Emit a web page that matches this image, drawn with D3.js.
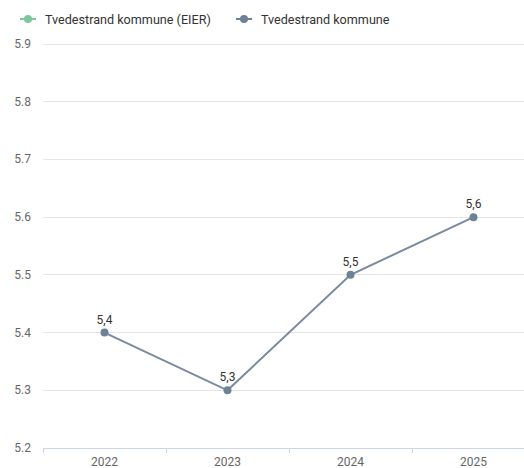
<!DOCTYPE html>
<html><head><meta charset="utf-8">
<script src="https://cdn.jsdelivr.net/npm/d3@7"></script>
<style>body{margin:0;background:#fff;font-family:Roboto,"Noto Sans",sans-serif;}</style>
</head><body><svg id="c" width="524" height="468"></svg>
<script>
const categories = ["2022","2023","2024","2025"];
const seriesNames = ["Tvedestrand kommune (EIER)","Tvedestrand kommune"];
const seriesColors = ["#7cc79b","#6e8296"];
const values = [5.4,5.3,5.5,5.6];
const yTicks = [5.2,5.3,5.4,5.5,5.6,5.7,5.8,5.9];

const svg = d3.select("#c");
const x = d3.scaleBand().domain(categories).range([43,535]);
const y = d3.scaleLinear().domain([5.2,5.9]).range([448,44]);

// grid
svg.append("g").selectAll("line").data(yTicks.slice(1)).join("line")
  .attr("x1",43).attr("x2",524).attr("y1",d=>y(d)).attr("y2",d=>y(d))
  .attr("stroke","#e6e6e6").attr("stroke-width",1).attr("shape-rendering","crispEdges");

// y labels
svg.append("g").selectAll("text").data(yTicks).join("text")
  .attr("x",31).attr("y",d=>y(d)+4).attr("text-anchor","end")
  .attr("font-size",12).attr("fill","#666").text(d=>d.toFixed(1));

// x axis
const xa = svg.append("g").attr("transform","translate(0,448)")
  .call(d3.axisBottom(x).tickSize(0).tickPadding(0));
xa.select(".domain").remove();
xa.selectAll(".tick text").attr("dy",null).attr("y",18).attr("font-size",12).attr("fill","#666").attr("font-family","Roboto,sans-serif");
xa.append("line").attr("x1",43).attr("x2",524).attr("y1",0.5).attr("y2",0.5).attr("stroke","#ccd6eb");
xa.selectAll(".bt").data(categories).join("line")
  .attr("x1",d=>Math.round(x(d))+0.5).attr("x2",d=>Math.round(x(d))+0.5).attr("y1",0).attr("y2",5).attr("stroke","#ccd6eb");

// line
const cx = d=>x(d)+x.bandwidth()/2;
svg.append("path").datum(values)
  .attr("d",d3.line().x((d,i)=>cx(categories[i])).y(d=>y(d)))
  .attr("fill","none").attr("stroke","#7a8ba0").attr("stroke-width",2);
svg.append("g").selectAll("circle").data(values).join("circle")
  .attr("cx",(d,i)=>cx(categories[i])).attr("cy",d=>y(d)).attr("r",4).attr("fill",seriesColors[1]);
svg.append("g").selectAll("text").data(values).join("text")
  .attr("x",(d,i)=>cx(categories[i])).attr("y",d=>y(d)-9).attr("text-anchor","middle")
  .attr("font-size",12).attr("fill","#333").text(d=>d.toFixed(1).replace(".",","));

// legend
const lg = svg.append("g");
const lx = [20,236];
seriesNames.forEach((n,i)=>{
  const g = lg.append("g").attr("transform",`translate(${lx[i]},19)`);
  g.append("line").attr("x1",0).attr("x2",16).attr("stroke",seriesColors[i]).attr("stroke-width",2);
  g.append("circle").attr("cx",8).attr("r",4).attr("fill",seriesColors[i]);
  g.append("text").attr("x",25).attr("y",4.5).attr("font-size",12.6).attr("fill","#333").text(n);
});
</script></body></html>
